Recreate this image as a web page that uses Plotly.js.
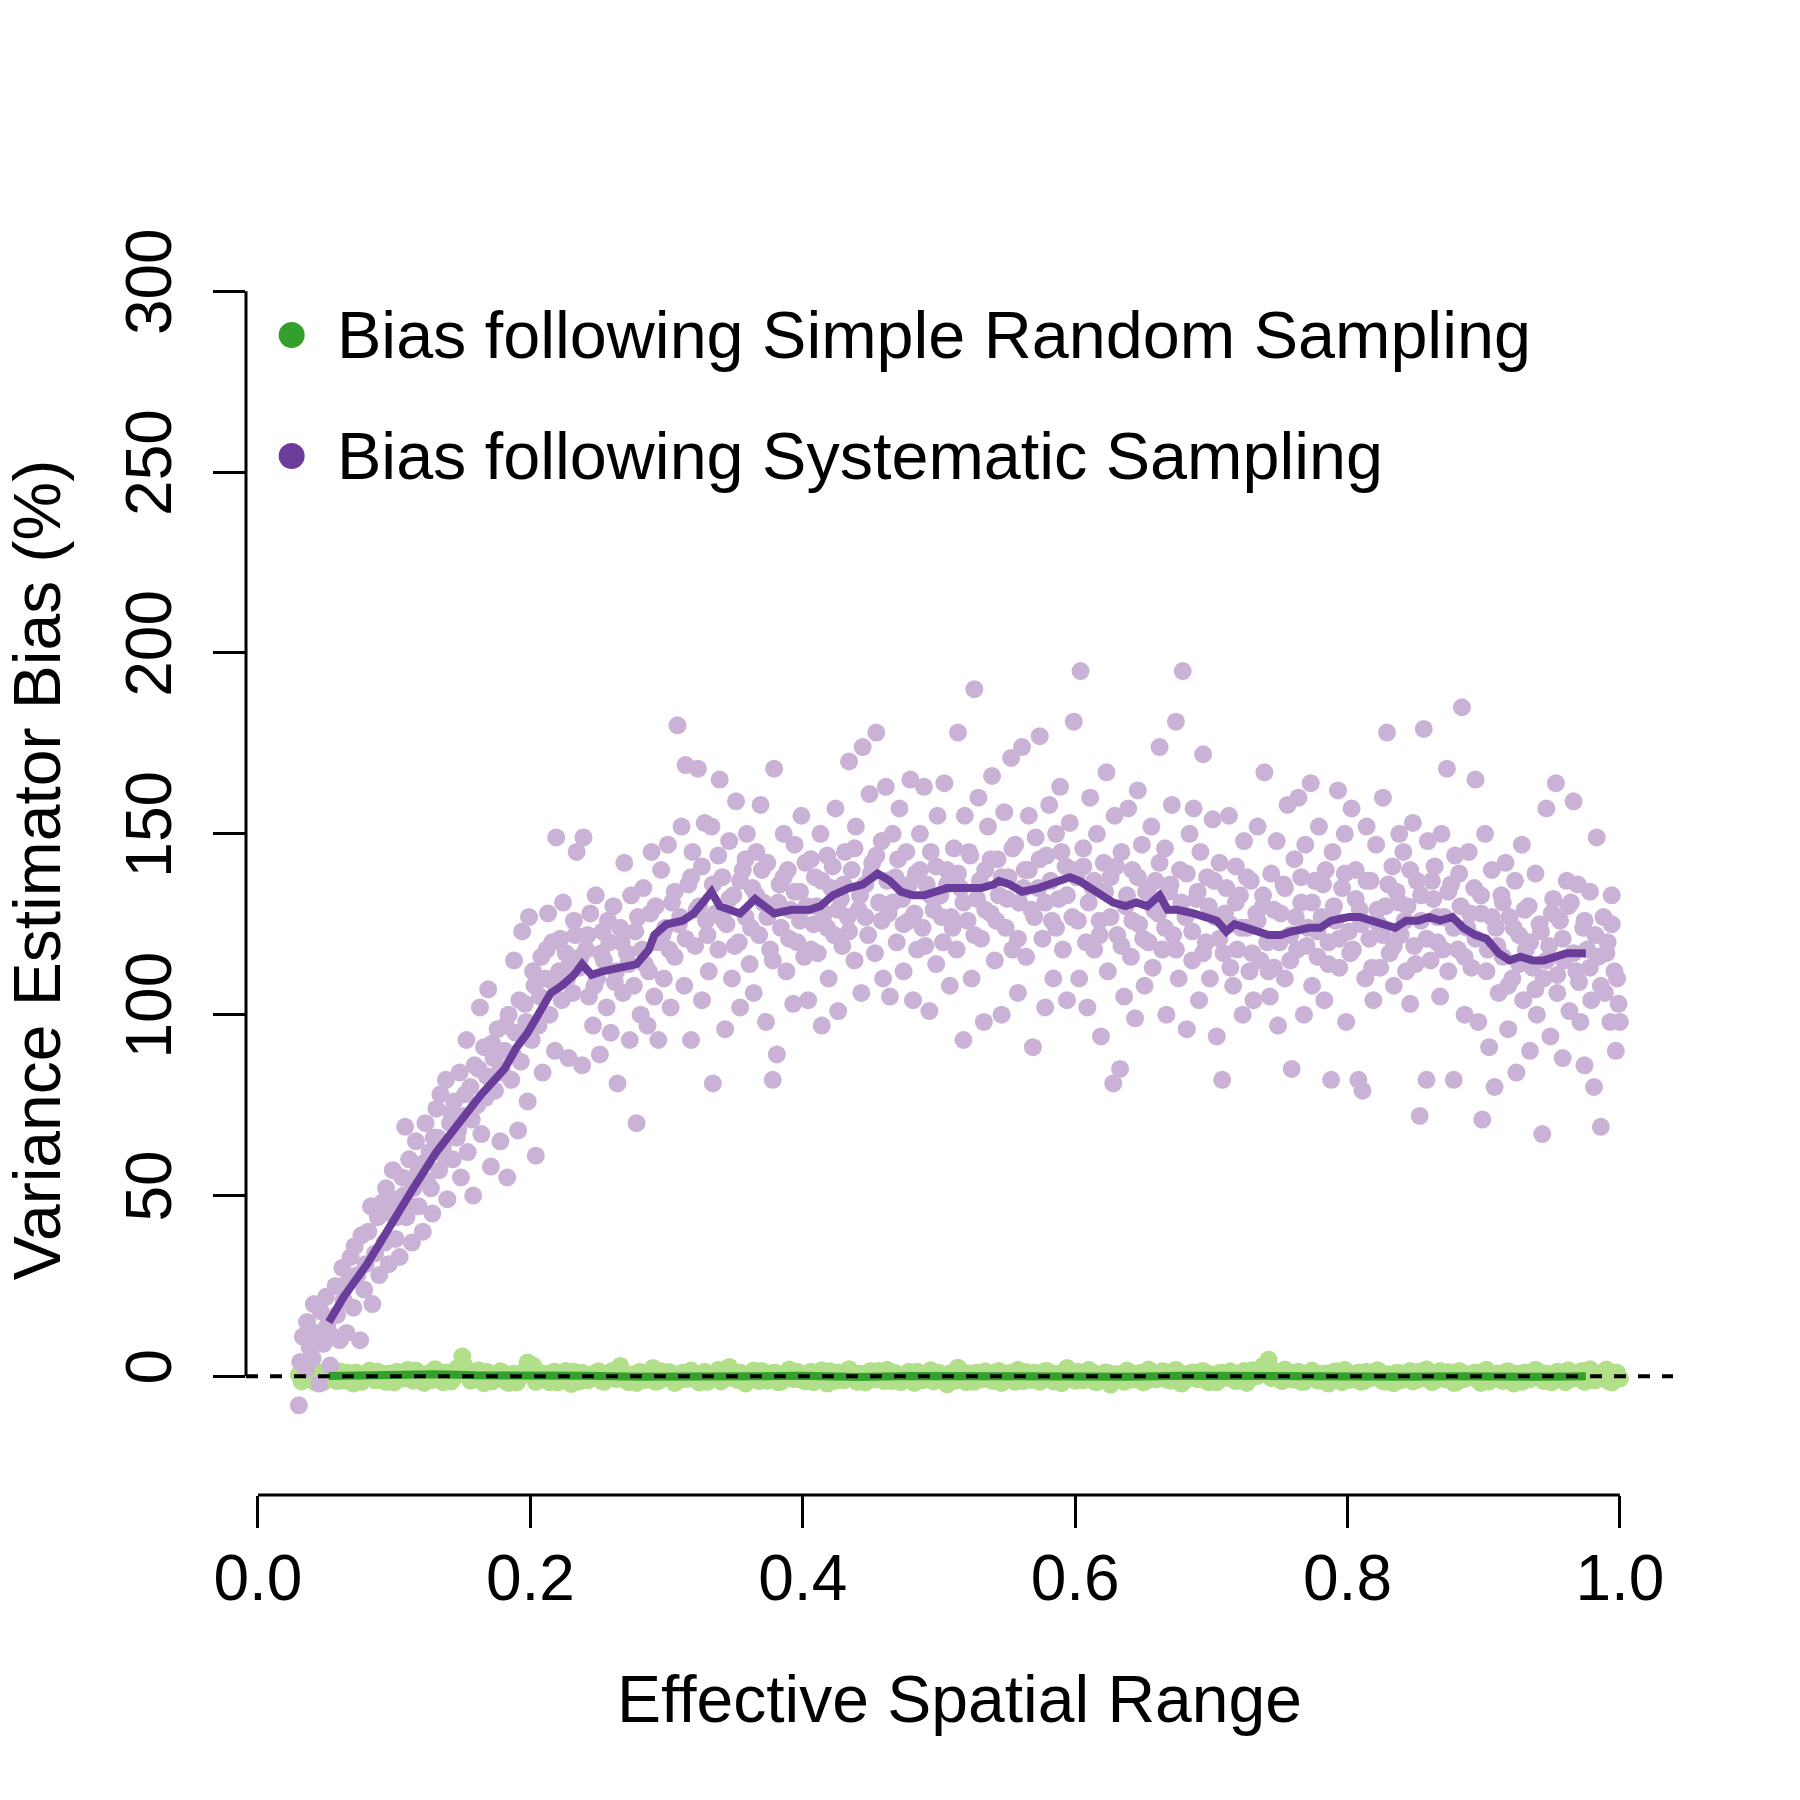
<!DOCTYPE html>
<html>
<head>
<meta charset="utf-8">
<script src="https://cdn.plot.ly/plotly-3.0.1.min.js"></script>
<style>html,body{margin:0;padding:0;background:#fff;}#chart{width:1800px;height:1800px;}</style>
</head>
<body>
<div id="chart"></div>
<script>
// ---- Data ----
const seriesNames = ["Bias following Simple Random Sampling", "Bias following Systematic Sampling"];
const xTickVals = [0, 0.2, 0.4, 0.6, 0.8, 1.0];
const xTickText = ["0.0", "0.2", "0.4", "0.6", "0.8", "1.0"];
const yTickVals = [0, 50, 100, 150, 200, 250, 300];
const yTickText = ["0", "50", "100", "150", "200", "250", "300"];

// Systematic sampling: individual simulations [effective range, bias %]
const systematicPoints = [
[0.030,-8],[0.031,4],[0.033,11],[0.035,2],[0.036,15],[0.038,8],[0.040,5],[0.041,20],[0.043,12],[0.045,-2],[0.046,18],[0.048,9],[0.050,22],[0.051,14],[0.053,3],[0.055,11],
[0.057,25],[0.058,17],[0.060,10],[0.062,30],[0.063,21],[0.065,12],[0.066,26],[0.068,33],[0.070,19],[0.071,36],[0.073,28],[0.075,10],[0.076,39],[0.078,24],[0.079,31],
[0.081,40],[0.083,47],[0.084,20],[0.086,34],[0.088,44],[0.089,28],[0.091,48],[0.093,37],[0.094,52],[0.096,31],[0.098,45],[0.099,57],[0.101,38],[0.103,49],[0.104,33],
[0.106,55],[0.108,69],[0.109,44],[0.111,60],[0.113,37],[0.114,52],[0.116,65],[0.118,47],[0.119,58],[0.121,40],[0.123,70],[0.124,54],[0.126,62],[0.128,45],[0.129,66],
[0.131,74],[0.133,57],[0.134,78],[0.136,64],[0.138,82],[0.139,49],[0.141,70],[0.143,60],[0.144,76],[0.146,66],[0.148,84],[0.149,55],[0.151,72],[0.153,93],[0.154,62],
[0.156,80],[0.158,50],[0.159,86],[0.161,75],[0.163,102],[0.164,67],[0.166,91],[0.168,83],[0.169,107],[0.171,58],[0.173,88],[0.174,79],[0.176,96],[0.178,65],[0.179,85],
[0.181,90],[0.183,55],[0.184,100],[0.186,82],[0.188,115],[0.189,95],[0.191,68],[0.193,87],[0.194,123],[0.196,103],[0.198,76],[0.199,127],[0.201,93],[0.203,108],[0.204,61],[0.206,97],
[0.208,116],[0.209,84],[0.211,110],[0.213,128],[0.214,100],[0.216,120],[0.218,90],[0.219,149],[0.221,112],[0.223,104],[0.224,131],[0.226,117],[0.228,88],[0.229,114],[0.231,106],
[0.233,122],[0.234,145],[0.236,113],[0.238,86],[0.239,149],[0.241,118],[0.243,105],[0.244,128],[0.246,97],[0.248,133],[0.249,110],[0.251,89],[0.253,123],[0.254,115],[0.256,102],
[0.258,120],[0.259,95],[0.261,130],[0.263,112],[0.264,81],[0.266,124],[0.268,106],[0.269,142],[0.271,117],[0.273,93],[0.274,133],[0.276,108],[0.278,70],[0.279,127],[0.281,100],
[0.283,135],[0.284,114],[0.286,97],[0.288,128],[0.289,145],[0.291,105],[0.293,120],[0.294,93],[0.296,140],[0.298,110],[0.299,124],[0.301,147],[0.303,102],[0.304,131],[0.306,116],
[0.308,180],[0.309,125],[0.311,152],[0.313,108],[0.314,169],[0.316,136],[0.318,93],[0.319,145],[0.321,119],[0.323,168],[0.324,130],[0.326,104],[0.328,153],[0.329,126],[0.331,112],
[0.333,152],[0.334,81],[0.336,128],[0.338,118],[0.339,165],[0.341,138],[0.343,96],[0.344,125],[0.346,148],[0.348,110],[0.349,133],[0.351,159],[0.353,120],[0.354,102],[0.356,140],
[0.358,127],[0.359,150],[0.361,114],[0.363,135],[0.364,106],[0.366,145],[0.368,122],[0.369,158],[0.371,131],[0.373,98],[0.374,142],[0.376,118],[0.378,82],[0.379,168],[0.381,89],[0.383,136],
[0.384,124],[0.386,150],[0.388,112],[0.389,140],[0.391,129],[0.393,103],[0.394,147],[0.396,120],[0.398,134],[0.399,155],[0.401,116],[0.403,130],[0.404,104],[0.406,143],[0.408,125],
[0.409,138],[0.411,117],[0.413,150],[0.414,97],[0.416,128],[0.418,144],[0.419,110],[0.421,135],[0.423,122],[0.424,157],[0.426,101],[0.428,132],[0.429,119],[0.431,145],[0.433,127],
[0.434,170],[0.436,140],[0.438,115],[0.439,152],[0.441,129],[0.443,106],[0.444,174],[0.446,136],[0.448,122],[0.449,161],[0.451,142],[0.453,117],[0.454,178],[0.456,131],[0.458,148],[0.459,110],
[0.461,163],[0.463,128],[0.464,105],[0.466,150],[0.468,138],[0.469,120],[0.471,157],[0.473,132],[0.474,112],[0.476,145],[0.478,126],[0.479,165],[0.481,104],[0.483,139],[0.484,118],
[0.486,150],[0.488,124],[0.489,163],[0.491,136],[0.493,101],[0.494,145],[0.496,129],[0.498,114],[0.499,155],[0.501,133],[0.503,120],[0.504,164],[0.506,140],[0.508,108],[0.509,127],
[0.511,146],[0.513,118],[0.514,178],[0.516,135],[0.518,93],[0.519,155],[0.521,126],[0.523,144],[0.524,110],[0.526,190],[0.528,132],[0.529,160],[0.531,121],[0.533,98],[0.534,140],
[0.536,152],[0.538,128],[0.539,166],[0.541,115],[0.543,143],[0.544,133],[0.546,100],[0.548,156],[0.549,124],[0.551,138],[0.553,171],[0.554,118],[0.556,147],[0.558,106],[0.559,131],
[0.561,174],[0.563,140],[0.564,116],[0.566,155],[0.568,129],[0.569,91],[0.571,149],[0.573,135],[0.574,177],[0.576,121],[0.578,102],[0.579,144],[0.581,158],[0.583,126],[0.584,110],
[0.586,150],[0.588,132],[0.589,163],[0.591,118],[0.593,141],[0.594,104],[0.596,153],[0.598,127],[0.599,181],[0.601,138],[0.603,110],[0.604,195],[0.606,146],[0.608,120],[0.609,102],
[0.611,160],[0.613,135],[0.614,118],[0.616,150],[0.618,126],[0.619,94],[0.621,142],[0.623,167],[0.624,112],[0.626,138],[0.628,81],[0.629,155],[0.631,122],[0.633,85],[0.634,145],[0.636,105],
[0.637,130],[0.639,157],[0.641,116],[0.642,140],[0.644,99],[0.646,162],[0.647,125],[0.649,147],[0.651,108],[0.652,134],[0.654,120],[0.656,152],[0.657,113],[0.659,137],[0.661,128],
[0.662,174],[0.664,118],[0.666,146],[0.667,100],[0.669,134],[0.671,158],[0.672,122],[0.674,181],[0.676,110],[0.677,140],[0.679,195],[0.681,127],[0.682,96],[0.684,150],[0.686,115],
[0.687,157],[0.689,132],[0.691,104],[0.692,145],[0.694,172],[0.696,120],[0.697,138],[0.699,110],[0.701,154],[0.703,127],[0.704,94],[0.706,142],[0.708,82],[0.709,117],[0.711,135],
[0.713,155],[0.714,125],[0.716,108],[0.718,141],[0.719,118],[0.721,133],[0.723,100],[0.724,148],[0.726,124],[0.728,112],[0.729,137],[0.731,104],[0.733,128],[0.734,152],[0.736,115],
[0.738,130],[0.739,167],[0.741,120],[0.743,105],[0.744,139],[0.746,113],[0.748,148],[0.749,97],[0.751,128],[0.753,136],[0.754,110],[0.756,158],[0.758,122],[0.759,85],[0.761,143],
[0.763,118],[0.764,160],[0.766,131],[0.768,100],[0.769,147],[0.771,124],[0.773,164],[0.774,108],[0.776,137],[0.778,116],[0.779,152],[0.781,127],[0.783,104],[0.784,140],[0.786,120],
[0.788,82],[0.789,145],[0.791,126],[0.793,162],[0.794,113],[0.796,135],[0.798,150],[0.799,98],[0.801,123],[0.803,157],[0.804,118],[0.806,140],[0.808,82],[0.809,129],[0.811,79],[0.813,110],
[0.814,152],[0.816,121],[0.817,137],[0.819,104],[0.821,147],[0.823,125],[0.824,113],[0.826,160],[0.828,130],[0.829,178],[0.831,117],[0.833,141],[0.834,108],[0.836,134],[0.838,150],
[0.839,122],[0.841,145],[0.843,112],[0.844,130],[0.846,103],[0.848,153],[0.849,119],[0.851,137],[0.853,72],[0.854,126],[0.856,179],[0.858,82],[0.859,148],[0.861,115],[0.863,132],
[0.864,141],[0.866,120],[0.868,105],[0.869,150],[0.871,127],[0.873,168],[0.874,112],[0.876,136],[0.878,82],[0.879,144],[0.881,118],[0.883,130],[0.884,185],[0.886,100],[0.888,124],
[0.889,145],[0.891,113],[0.893,135],[0.894,165],[0.896,98],[0.898,128],[0.899,71],[0.901,150],[0.903,118],[0.904,91],[0.906,140],[0.908,80],[0.909,124],[0.911,106],[0.913,133],
[0.914,116],[0.916,142],[0.918,96],[0.919,127],[0.921,110],[0.923,137],[0.924,84],[0.926,122],[0.928,147],[0.929,104],[0.931,118],[0.933,130],[0.934,90],[0.936,113],[0.938,139],
[0.939,100],[0.941,125],[0.943,67],[0.944,110],[0.946,157],[0.948,119],[0.949,94],[0.951,132],[0.953,164],[0.954,106],[0.956,126],[0.958,88],[0.959,115],[0.961,137],[0.963,101],
[0.964,131],[0.966,159],[0.968,112],[0.969,136],[0.971,98],[0.973,124],[0.974,86],[0.976,118],[0.978,134],[0.979,104],[0.981,80],[0.983,149],[0.984,116],[0.986,69],[0.988,127],
[0.989,106],[0.991,120],[0.993,98],[0.994,133],[0.996,112],[0.997,90],[0.999,103],[1.000,98],
[0.102,44],[0.107,50],[0.112,47],[0.117,56],[0.122,59],[0.127,52],[0.132,66],[0.137,61],[0.142,73],[0.147,68],[0.152,78],[0.157,71],[0.162,85],[0.167,77],[0.172,92],[0.177,84],
[0.182,97],[0.187,89],[0.192,104],[0.197,98],[0.202,112],[0.207,105],[0.212,118],[0.217,109],[0.222,121],[0.227,110],[0.232,126],[0.237,116],[0.242,122],[0.247,108],[0.252,117],[0.257,126],
[0.262,109],[0.267,120],[0.272,114],[0.277,123],[0.282,118],[0.287,112],[0.292,130],[0.297,122],
[0.302,118],[0.306,134],[0.310,127],[0.314,121],[0.318,138],[0.322,129],[0.326,141],[0.330,122],[0.334,136],[0.338,144],[0.342,126],[0.346,132],[0.350,119],[0.354,137],[0.358,143],[0.362,124],
[0.366,133],[0.370,140],[0.374,127],[0.378,115],[0.382,131],[0.386,138],[0.390,121],[0.394,134],[0.398,126],[0.402,142],[0.406,118],[0.410,130],[0.414,137],[0.418,124],[0.422,141],[0.426,129],
[0.430,136],[0.434,123],[0.438,146],[0.442,133],[0.446,127],[0.450,139],[0.454,144],[0.458,126],[0.462,137],[0.466,131],[0.470,143],[0.474,125],[0.478,136],[0.482,128],[0.486,140],[0.490,119],
[0.494,133],[0.498,141],[0.502,127],[0.506,136],[0.510,124],[0.514,139],[0.518,131],[0.522,145],[0.526,122],[0.530,137],[0.534,129],[0.538,143],[0.542,126],[0.546,138],[0.550,132],[0.554,146],
[0.558,121],[0.562,135],[0.566,140],[0.570,127],[0.574,143],[0.578,131],[0.582,137],[0.586,124],[0.590,145],[0.594,133],[0.598,140],[0.602,126],[0.606,141],[0.610,131],[0.614,137],[0.618,122],
[0.622,134],[0.626,127],[0.630,141],[0.634,119],[0.638,133],[0.642,126],[0.646,138],[0.650,121],[0.654,135],[0.658,129],[0.662,142],[0.666,124],[0.670,136],[0.674,118],[0.678,131],[0.682,139],
[0.686,123],[0.690,134],[0.694,117],[0.698,130],[0.702,137],[0.706,121],[0.710,128],[0.714,113],[0.718,131],[0.722,124],[0.726,138],[0.730,117],[0.734,126],[0.738,133],[0.742,112],[0.746,129],
[0.750,120],[0.754,135],[0.758,115],[0.762,127],[0.766,138],[0.770,119],[0.774,131],[0.778,123],[0.782,136],[0.786,114],[0.790,130],[0.794,121],[0.798,139],[0.802,117],[0.806,132],[0.810,125],
[0.814,137],[0.818,113],[0.822,129],[0.826,122],[0.830,136],[0.834,119],[0.838,131],[0.842,126],[0.846,140],[0.850,114],[0.854,133],[0.858,121],[0.862,137],[0.866,127],[0.870,118],[0.874,134],
[0.878,124],[0.882,139],[0.886,116],[0.890,128],[0.894,121],[0.898,133],[0.902,112],[0.906,127],[0.910,119],[0.914,131],[0.918,108],[0.922,124],[0.926,114],[0.930,129],[0.934,120],[0.938,107],
[0.942,123],[0.946,115],[0.950,128],[0.954,111],[0.958,121],[0.962,130],[0.966,117],[0.970,109],[0.974,126],[0.978,113],[0.982,122],[0.986,108],[0.990,117],[0.994,125],[0.998,110]
];

// Simple random sampling: individual simulations [effective range, bias %]
const randomPoints = [
[0.030,0.4],[0.034,-0.8],[0.038,1.3],[0.042,-1.7],[0.046,0.6],[0.050,-0.4],[0.054,1.5],[0.058,-1.3],[0.062,0.2],[0.066,1.0],[0.070,-2.0],[0.074,0.6],[0.078,-0.3],[0.082,1.6],[0.086,-1.1],[0.090,0.8],
[0.094,-1.5],[0.098,0.1],[0.102,1.3],[0.106,-0.6],[0.110,1.8],[0.114,-1.2],[0.118,0.4],[0.122,-1.8],[0.126,0.9],[0.130,2.0],[0.134,-0.5],[0.138,1.1],[0.142,-1.4],[0.146,2.2],[0.150,5.5],[0.154,0.3],
[0.158,-0.9],[0.162,1.7],[0.166,-1.9],[0.170,0.7],[0.174,-0.2],[0.178,1.4],[0.182,-1.3],[0.186,0.5],[0.190,-1.7],[0.194,1.0],[0.198,3.8],[0.202,3.0],[0.206,-0.8],[0.210,0.6],[0.214,-1.6],[0.218,1.3],
[0.222,-0.4],[0.226,1.5],[0.230,-2.1],[0.234,0.4],[0.238,1.0],[0.242,-1.1],[0.246,0.1],[0.250,1.4],[0.254,-1.5],[0.258,0.8],[0.262,-0.6],[0.266,2.9],[0.270,-1.0],[0.274,0.5],[0.278,-1.8],[0.282,1.1],
[0.286,-0.1],[0.290,2.3],[0.294,-1.3],[0.298,0.3],[0.302,1.2],[0.306,-1.8],[0.310,0.6],[0.314,-0.7],[0.318,1.6],[0.322,-0.4],[0.326,0.8],[0.330,-1.5],[0.334,0.4],[0.338,1.8],[0.342,-0.9],[0.346,2.6],
[0.350,-0.5],[0.354,1.1],[0.358,-2.0],[0.362,0.6],[0.366,-0.3],[0.370,1.5],[0.374,-1.2],[0.378,0.9],[0.382,-1.6],[0.386,0.1],[0.390,1.9],[0.394,-0.8],[0.398,0.6],[0.402,-1.4],[0.406,1.3],[0.410,-0.4],
[0.414,1.7],[0.418,-2.0],[0.422,0.4],[0.426,1.1],[0.430,-1.1],[0.434,2.0],[0.438,-0.2],[0.442,0.7],[0.446,-1.7],[0.450,1.5],[0.454,-0.8],[0.458,0.5],[0.462,1.8],[0.466,-1.3],[0.470,0.2],[0.474,-0.6],
[0.478,1.3],[0.482,-1.8],[0.486,0.8],[0.490,-0.4],[0.494,1.7],[0.498,-1.1],[0.502,0.4],[0.506,-2.2],[0.510,1.1],[0.514,2.4],[0.518,-0.6],[0.522,0.8],[0.526,-1.5],[0.530,0.3],[0.534,1.4],[0.538,-1.0],
[0.542,1.2],[0.546,-1.8],[0.550,0.6],[0.554,-0.1],[0.558,1.8],[0.562,-1.3],[0.566,0.4],[0.570,1.0],[0.574,-1.5],[0.578,1.5],[0.582,-0.5],[0.586,0.7],[0.590,-1.9],[0.594,2.3],[0.598,-0.3],[0.602,1.3],
[0.606,-1.1],[0.610,1.8],[0.614,-1.4],[0.618,0.4],[0.622,1.1],[0.626,-2.3],[0.630,0.6],[0.634,-0.4],[0.638,1.6],[0.642,-0.9],[0.646,0.8],[0.650,-1.7],[0.654,1.9],[0.658,-0.6],[0.662,0.2],[0.666,1.3],
[0.670,-1.2],[0.674,1.8],[0.678,-2.0],[0.682,0.6],[0.686,1.1],[0.690,-0.8],[0.694,1.5],[0.698,-1.6],[0.702,0.3],[0.706,0.9],[0.710,-0.4],[0.714,1.4],[0.718,-1.3],[0.722,0.8],[0.726,-1.8],[0.730,1.7],
[0.734,0.1],[0.738,2.9],[0.742,4.6],[0.746,1.0],[0.750,-0.8],[0.754,1.9],[0.758,-0.6],[0.762,1.1],[0.766,-1.5],[0.770,0.5],[0.774,1.6],[0.778,-1.1],[0.782,0.7],[0.786,-2.0],[0.790,1.3],[0.794,-0.2],
[0.798,1.8],[0.802,-1.0],[0.806,0.4],[0.810,-1.5],[0.814,1.3],[0.818,-0.4],[0.822,1.7],[0.826,-1.3],[0.830,0.6],[0.834,-1.9],[0.838,0.9],[0.842,-0.1],[0.846,1.5],[0.850,-1.1],[0.854,0.4],[0.858,2.0],
[0.862,-1.6],[0.866,0.8],[0.870,-0.5],[0.874,1.2],[0.878,-1.8],[0.882,1.5],[0.886,-0.7],[0.890,0.3],[0.894,1.1],[0.898,-1.8],[0.902,1.8],[0.906,-0.3],[0.910,0.8],[0.914,-1.3],[0.918,1.4],[0.922,-2.0],
[0.926,0.6],[0.930,1.1],[0.934,-0.8],[0.938,1.8],[0.942,-0.4],[0.946,0.7],[0.950,-1.6],[0.954,1.3],[0.958,-1.0],[0.962,1.7],[0.966,-0.6],[0.970,0.9],[0.974,-1.5],[0.978,2.0],[0.982,-1.1],[0.986,0.5],
[0.990,1.9],[0.994,-1.7],[0.998,1.0],[1.000,-0.6],
[0.032,-1.4],[0.036,0.9],[0.040,-0.2],[0.044,1.2],[0.048,-1.6],[0.052,0.7],[0.056,-0.5],[0.060,1.4],[0.064,-1.2],[0.068,0.3],[0.072,1.1],[0.076,-1.5],[0.080,0.6],[0.084,-0.2],[0.088,1.3],[0.092,-1.0],
[0.096,0.8],[0.100,-1.7],[0.104,0.4],[0.108,1.0],[0.112,-0.7],[0.116,1.6],[0.120,-1.3],[0.124,0.2],[0.128,-1.0],[0.132,1.2],[0.136,-1.6],[0.140,0.5],[0.144,-0.3],[0.148,1.4],[0.152,2.6],[0.156,-1.2],
[0.160,0.6],[0.164,-0.8],[0.168,1.3],[0.172,-1.4],[0.176,0.2],[0.180,1.0],[0.184,-1.8],[0.188,0.7],[0.192,-0.4],[0.196,1.6],[0.200,1.2],[0.204,-1.5],[0.208,0.9],[0.212,-0.3],[0.216,1.1],[0.220,-1.7],
[0.224,0.5],[0.228,-0.9],[0.232,1.3],[0.236,-1.4],[0.240,0.6],[0.244,-0.2],[0.248,1.0],[0.252,-1.2],[0.256,0.4],[0.260,1.5],[0.264,-0.7],[0.268,0.9],[0.272,-1.6],[0.276,0.3],[0.280,1.2],[0.284,-1.0],
[0.288,0.6],[0.292,-1.5],[0.296,1.4],[0.300,-0.4],[0.304,0.8],[0.308,-1.3],[0.312,1.1],[0.316,-0.6],[0.320,0.2],[0.324,-1.7],[0.328,1.3],[0.332,-0.2],[0.336,0.9],[0.340,-1.4],[0.344,0.5],[0.348,1.2],
[0.352,-1.0],[0.356,0.4],[0.360,-0.8],[0.364,1.6],[0.368,-1.3],[0.372,0.7],[0.376,-0.3],[0.380,1.0],[0.384,-1.5],[0.388,0.8],[0.392,-0.6],[0.396,1.3],[0.400,-1.1],[0.404,0.3],[0.408,-1.6],[0.412,1.0],
[0.416,-0.4],[0.420,1.4],[0.424,-1.2],[0.428,0.6],[0.432,-0.7],[0.436,1.2],[0.440,-1.5],[0.444,0.4],[0.448,1.1],[0.452,-0.9],[0.456,1.5],[0.460,-1.3],[0.464,0.2],[0.468,0.9],[0.472,-1.6],[0.476,0.7],
[0.480,-0.2],[0.484,1.3],[0.488,-1.1],[0.492,0.5],[0.496,-1.4],[0.500,1.0],[0.504,-0.5],[0.508,0.8],[0.512,-1.2],[0.516,1.4],[0.520,-1.6],[0.524,0.3],[0.528,1.1],[0.532,-0.8],[0.536,0.6],[0.540,-1.3],
[0.544,1.5],[0.548,-0.4],[0.552,0.9],[0.556,-1.5],[0.560,0.2],[0.564,1.2],[0.568,-1.0],[0.572,0.7],[0.576,-0.6],[0.580,1.4],[0.584,-1.4],[0.588,0.5],[0.592,-0.3],[0.596,1.1],[0.600,-1.2],[0.604,0.8],
[0.608,-0.7],[0.612,1.3],[0.616,-1.6],[0.620,0.4],[0.624,1.0],[0.628,-1.1],[0.632,0.6],[0.636,-1.5],[0.640,1.2],[0.644,-0.2],[0.648,0.9],[0.652,-1.3],[0.656,0.5],[0.660,-0.8],[0.664,1.4],[0.668,-1.0],
[0.672,0.3],[0.676,1.1],[0.680,-1.4],[0.684,0.7],[0.688,-0.5],[0.692,1.3],[0.696,-1.2],[0.700,0.6],[0.704,-1.6],[0.708,1.0],[0.712,-0.3],[0.716,0.8],[0.720,-1.1],[0.724,1.5],[0.728,-0.7],[0.732,0.4],
[0.736,1.6],[0.740,2.4],[0.744,-0.5],[0.748,1.2],[0.752,-1.3],[0.756,0.6],[0.760,-0.9],[0.764,1.3],[0.768,-1.5],[0.772,0.2],[0.776,1.0],[0.780,-1.2],[0.784,0.8],[0.788,-0.4],[0.792,1.4],[0.796,-1.6],
[0.800,0.5],[0.804,-0.7],[0.808,1.1],[0.812,-1.3],[0.816,0.7],[0.820,-0.2],[0.824,1.2],[0.828,-1.5],[0.832,0.4],[0.836,1.0],[0.840,-1.0],[0.844,0.6],[0.848,-1.4],[0.852,1.3],[0.856,-0.5],[0.860,0.9],
[0.864,-1.2],[0.868,1.5],[0.872,-0.8],[0.876,0.3],[0.880,-1.6],[0.884,1.1],[0.888,-0.3],[0.892,0.8],[0.896,-1.1],[0.900,1.4],[0.904,-1.4],[0.908,0.5],[0.912,-0.6],[0.916,1.2],[0.920,-1.0],[0.924,0.7],
[0.928,-1.5],[0.932,1.0],[0.936,-0.2],[0.940,1.3],[0.944,-1.3],[0.948,0.4],[0.952,-0.8],[0.956,1.1],[0.960,-1.6],[0.964,0.6],[0.968,-0.4],[0.972,1.5],[0.976,-1.2],[0.980,0.8],[0.984,-0.6],[0.988,1.2],
[0.992,-1.4],[0.996,0.9]
];

// Running mean lines
const systematicTrendX = [0.052,0.063,0.080,0.097,0.114,0.131,0.148,0.164,0.181,0.190,0.198,0.207,0.215,0.223,0.232,0.238,0.245,0.253,0.266,0.278,0.287,0.291,0.300,0.312,0.320,0.327,0.333,0.339,0.346,0.354,0.365,0.371,0.379,0.392,0.405,0.413,0.422,0.434,0.444,0.455,0.464,0.472,0.481,0.489,0.497,0.506,0.519,0.531,0.540,0.544,0.552,0.561,0.573,0.582,0.590,0.596,0.603,0.611,0.620,0.628,0.637,0.645,0.653,0.662,0.668,0.675,0.687,0.696,0.704,0.711,0.717,0.726,0.734,0.742,0.751,0.759,0.772,0.780,0.788,0.801,0.809,0.818,0.826,0.835,0.843,0.852,0.860,0.868,0.877,0.885,0.894,0.902,0.911,0.919,0.927,0.936,0.944,0.953,0.961,0.970,0.975];
const systematicTrendY = [15,22,31,42,52,62,70,78,85,91,95,101,106,108,111,114,111,112,113,114,118,122,125,126,128,131,134,130,129,128,132,130,128,129,129,130,133,135,136,139,137,134,133,133,134,135,135,135,136,137,136,134,135,136,137,138,137,135,133,131,130,131,130,133,129,129,128,127,126,123,125,124,123,122,122,123,124,124,126,127,127,126,125,124,126,126,127,126,127,124,122,121,117,115,116,115,115,116,117,117,117];
const randomTrendX = [0.052,0.090,0.130,0.160,0.200,0.240,0.280,0.320,0.360,0.400,0.440,0.480,0.520,0.560,0.600,0.640,0.680,0.720,0.760,0.800,0.840,0.880,0.920,0.950,0.975];
const randomTrendY = [0.1,0.4,0.6,0.3,0.5,0.2,-0.1,-0.3,0.0,0.2,-0.2,0.1,0.0,-0.2,0.1,-0.1,0.2,0.0,0.3,0.1,-0.1,0.0,-0.3,-0.1,0.0];

// ---- Styling ----
const GREEN_LIGHT = "#b2df8a", GREEN_DARK = "#33a02c";
const PURPLE_LIGHT = "#cab2d6", PURPLE_DARK = "#6a3d9a";
const FONT = '"Liberation Sans", Arial, Helvetica, sans-serif';
const MARKER = 18;

const traces = [
  {type:"scatter", mode:"markers", name:seriesNames[0],
   x:randomPoints.map(p=>p[0]), y:randomPoints.map(p=>p[1]),
   marker:{color:GREEN_LIGHT, size:MARKER, line:{width:0}}, cliponaxis:false},
  {type:"scatter", mode:"markers", name:seriesNames[1],
   x:systematicPoints.map(p=>p[0]), y:systematicPoints.map(p=>p[1]),
   marker:{color:PURPLE_LIGHT, size:MARKER, line:{width:0}}, cliponaxis:false},
  {type:"scatter", mode:"lines", name:seriesNames[0]+" (mean)",
   x:randomTrendX, y:randomTrendY, line:{color:GREEN_DARK, width:8}},
  {type:"scatter", mode:"lines", name:seriesNames[1]+" (mean)",
   x:systematicTrendX, y:systematicTrendY, line:{color:PURPLE_DARK, width:8}}
];

const legendY = [0.928, 0.8312];
const legendColors = [GREEN_DARK, PURPLE_DARK];

const shapes = [
  {type:"line", xref:"paper", yref:"y", x0:0, x1:0, y0:yTickVals[0], y1:yTickVals[yTickVals.length-1], line:{color:"black", width:3}, layer:"above"},
  {type:"line", xref:"x", yref:"paper", x0:xTickVals[0], x1:xTickVals[xTickVals.length-1], y0:0, y1:0, line:{color:"black", width:3}, layer:"above"},
  {type:"line", xref:"paper", yref:"y", x0:0, x1:1, y0:0, y1:0, line:{color:"black", width:4, dash:"12px,12px"}, layer:"above"}
];
const annotations = [];
seriesNames.forEach((nm, i) => {
  shapes.push({type:"circle", xref:"paper", yref:"paper", xsizemode:"pixel", ysizemode:"pixel",
    xanchor:0.032, yanchor:legendY[i], x0:-13, x1:13, y0:-13, y1:13,
    fillcolor:legendColors[i], line:{width:0}, layer:"above"});
  annotations.push({xref:"paper", yref:"paper", x:0.0625, y:legendY[i], xanchor:"left", yanchor:"middle",
    text:nm, showarrow:false, font:{family:FONT, size:66.5, color:"black"}});
});

const layout = {
  width:1800, height:1800,
  margin:{l:246, r:127, t:245, b:305, pad:0},
  paper_bgcolor:"white", plot_bgcolor:"white",
  showlegend:false,
  font:{family:FONT, size:66, color:"black"},
  xaxis:{range:[-0.0088, 1.039], tickmode:"array", tickvals:xTickVals, ticktext:xTickText,
    ticks:"outside", ticklen:32, tickwidth:3, tickcolor:"black",
    showline:false, showgrid:false, zeroline:false, automargin:false,
    tickfont:{family:FONT, size:64, color:"black"}, ticklabelstandoff:-5,
    title:{text:"Effective Spatial Range", font:{family:FONT, size:66, color:"black"}, standoff:63}},
  yaxis:{range:[-32.8, 312.8], tickmode:"array", tickvals:yTickVals, ticktext:yTickText, tickangle:-90,
    ticks:"outside", ticklen:32, tickwidth:3, tickcolor:"black",
    showline:false, showgrid:false, zeroline:false, automargin:true,
    tickfont:{family:FONT, size:64, color:"black"}, ticklabelstandoff:16,
    title:{text:"Variance Estimator Bias (%)", font:{family:FONT, size:66, color:"black"}, standoff:52}},
  shapes:shapes,
  annotations:annotations
};

Plotly.newPlot("chart", traces, layout, {staticPlot:true, displayModeBar:false});
</script>
</body>
</html>
